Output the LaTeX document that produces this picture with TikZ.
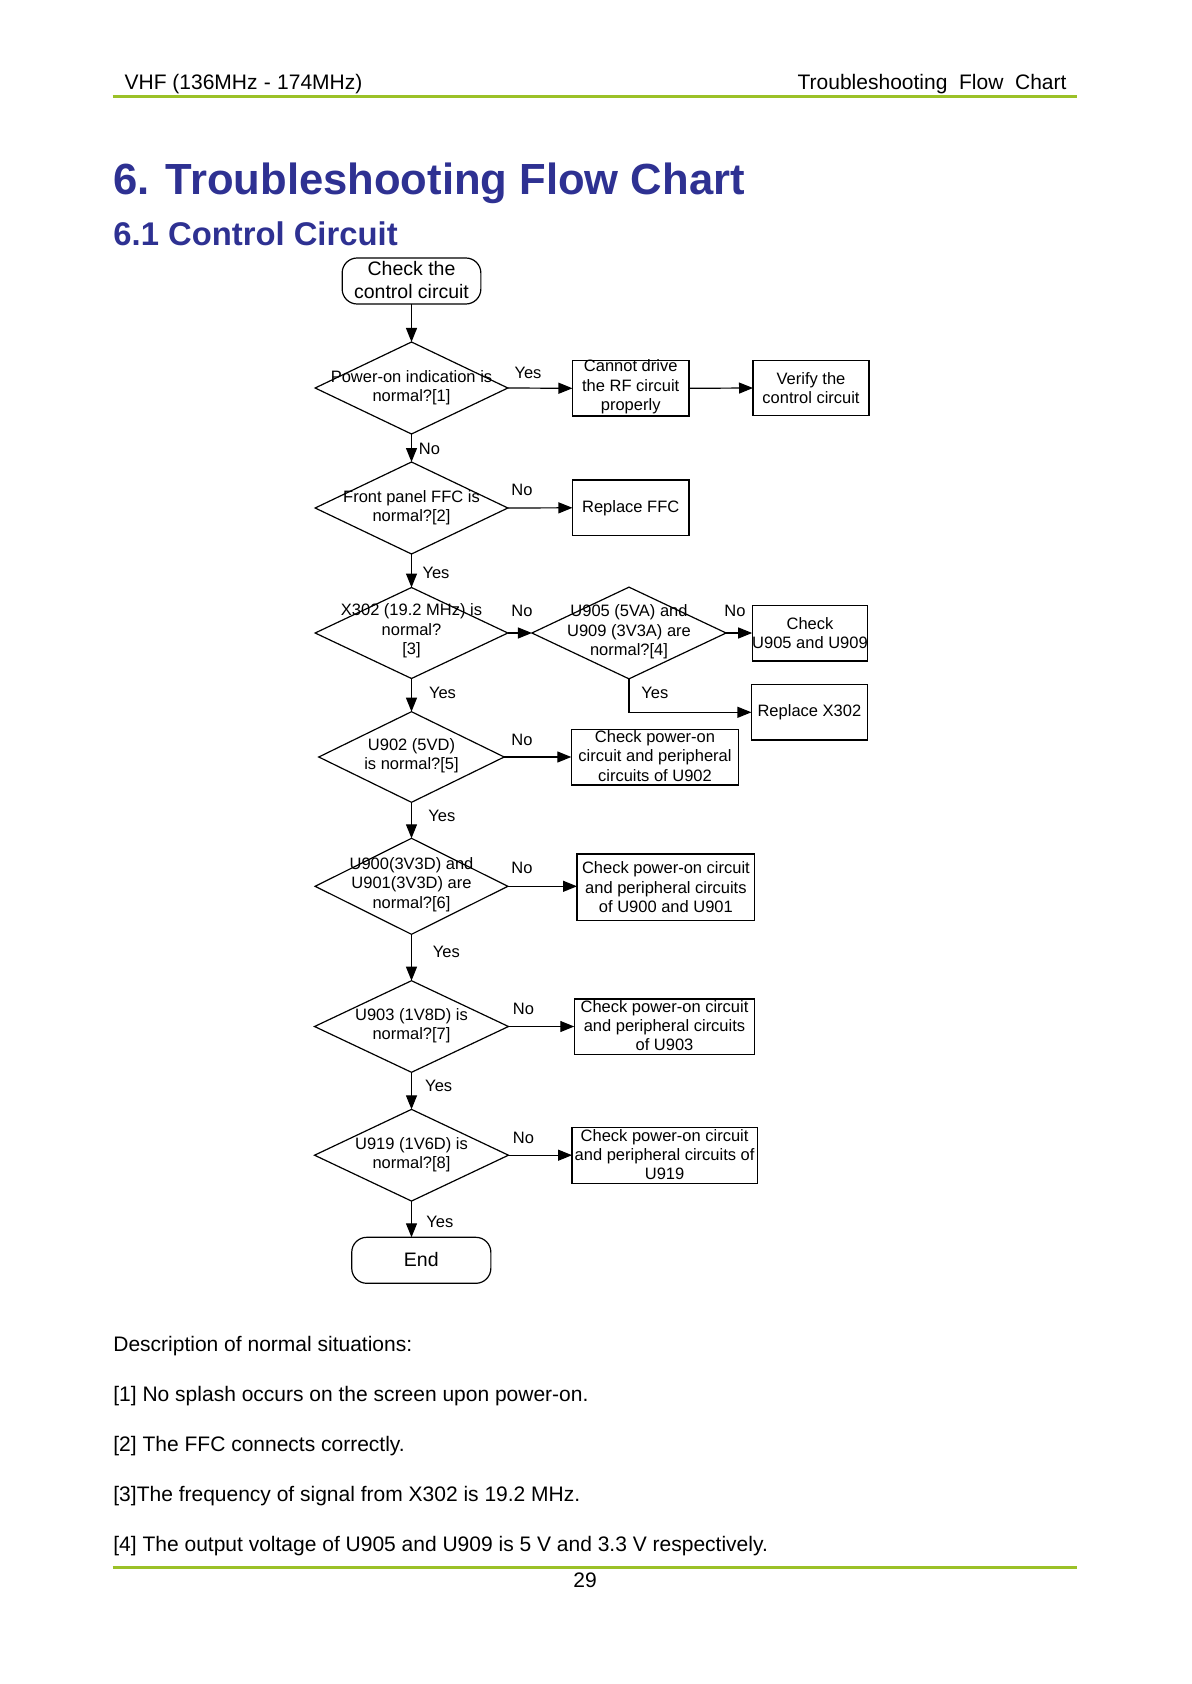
\documentclass[tikz,border=0pt]{standalone}
\usepackage{fontspec}
\setmainfont{Liberation Sans}
\usetikzlibrary{shapes.geometric,arrows.meta}
\definecolor{titleblue}{RGB}{46,49,146}
\definecolor{rulegreen}{RGB}{155,193,40}
\begin{document}
\begin{tikzpicture}[x=0.5pt,y=-0.5pt,
  every node/.style={inner sep=0pt, outer sep=0pt},
  flow/.style={draw, line width=0.6pt, fill=white},
  dec/.style={flow, diamond},
  proc/.style={flow, rectangle},
  term/.style={flow, rectangle, rounded corners=7.5pt},
  ftxt/.style={align=center, font=\fontsize{8.25}{9.65}\selectfont},
  ttxt/.style={align=center, font=\fontsize{9.75}{11.65}\selectfont},
  lab/.style={font=\fontsize{8.25}{9.65}\selectfont},
  conn/.style={line width=0.6pt, -{Triangle[length=7pt,width=5.5pt]}},
  hdr/.style={font=\fontsize{10.5}{12.6}\selectfont},
  body/.style={anchor=base west, font=\fontsize{10.5}{12.6}\selectfont},
  rulestyle/.style={draw=rulegreen, line width=1.25pt},
]
\useasboundingbox (0,0) rectangle (1191,1684);

% header
\node[hdr, anchor=base west] (hl) at (124.6,89.3) {VHF (136MHz\hspace{0.3em}-\hspace{0.3em}174MHz)};
\node[hdr, anchor=base east] (hr) at (1066.5,89.3) {Troubleshooting\ \ Flow\ \ Chart};
\coordinate (r1a) at (112.7,96.7);
\coordinate (r1b) at (1077,96.7);
\draw[rulestyle] (r1a) -- (r1b);

% titles
\node[anchor=base west, text=titleblue, font=\fontsize{21.8}{26}\selectfont\bfseries] (title) at (113.4,195) {6. Troubleshooting Flow Chart};
\node[anchor=base west, text=titleblue, font=\fontsize{16.4}{19}\selectfont\bfseries] (subtitle) at (113.4,246) {6.1 Control Circuit};

% flow chart shapes
\node[term, minimum width=69.35pt, minimum height=23pt] (start) at (411.5,281) {};
\node[ttxt] (startt) at (411.5,280) {Check the\\control circuit};

\node[dec, minimum width=96.35pt, minimum height=46pt] (d1) at (411.5,388) {};
\node[ftxt] (d1t) at (411.5,388) {Power-on indication is\\normal?[1]};
\node[proc, minimum width=58.25pt, minimum height=27.65pt] (cannot) at (630.7,388.3) {};
\node[ftxt] (cannott) at (630.7,387) {Cannot drive\\the RF circuit\\properly};
\node[proc, minimum width=58pt, minimum height=27.7pt] (verify) at (811,388) {};
\node[ftxt] (verifyt) at (811,388) {Verify the\\control circuit};

\node[dec, minimum width=96.35pt, minimum height=46pt] (d2) at (411.5,508) {};
\node[ftxt] (d2t) at (411.5,508) {Front panel FFC is\\normal?[2]};
\node[proc, minimum width=58.25pt, minimum height=27.85pt] (ffc) at (630.7,507.8) {};
\node[ftxt] (ffct) at (630.7,507.8) {Replace FFC};

\node[dec, minimum width=96.35pt, minimum height=45.5pt] (d3) at (411.5,633) {};
\node[ftxt] (d3t) at (411.5,631) {X302 (19.2 MHz) is\\normal?\\{[3]}};
\node[dec, minimum width=97.1pt, minimum height=45.85pt] (d4) at (629,633) {};
\node[ftxt] (d4t) at (629,632) {U905 (5VA) and\\U909 (3V3A) are\\normal?[4]};
\node[proc, minimum width=57.85pt, minimum height=27.65pt] (c905) at (810,633.3) {};
\node[ftxt] (c905t) at (810,633.3) {Check\\U905 and U909};
\node[proc, minimum width=58pt, minimum height=27.65pt] (x302) at (809.4,712.3) {};
\node[ftxt] (x302t) at (809.4,712.3) {Replace X302};

\node[dec, minimum width=92.7pt, minimum height=45.3pt] (d5) at (411.5,757) {};
\node[ftxt] (d5t) at (411.5,755.5) {U902 (5VD)\\is normal?[5]};
\node[proc, minimum width=83.7pt, minimum height=27.85pt] (u902) at (655,757.2) {};
\node[ftxt] (u902t) at (655,756) {Check power-on\\circuit and peripheral\\circuits of U902};

\node[dec, minimum width=96.35pt, minimum height=48pt] (d6) at (411.5,886.3) {};
\node[ftxt] (d6t) at (411.5,884.5) {U900(3V3D) and\\U901(3V3D) are\\normal?[6]};
\node[proc, minimum width=88.9pt, minimum height=33.35pt] (b6) at (665.9,887.3) {};
\node[ftxt] (b6t) at (665.9,887.3) {Check power-on circuit\\and peripheral circuits\\of U900 and U901};

\node[dec, minimum width=96.95pt, minimum height=45.8pt] (d7) at (411.5,1026.5) {};
\node[ftxt] (d7t) at (411.5,1025.5) {U903 (1V8D) is\\normal?[7]};
\node[proc, minimum width=90.25pt, minimum height=27.65pt] (b7) at (664.5,1026.7) {};
\node[ftxt] (b7t) at (664.5,1025.5) {Check power-on circuit\\and peripheral circuits\\of U903};

\node[dec, minimum width=96.95pt, minimum height=45.85pt] (d8) at (411.5,1155.2) {};
\node[ftxt] (d8t) at (411.5,1154.5) {U919 (1V6D) is\\normal?[8]};
\node[proc, minimum width=92.55pt, minimum height=27.8pt] (b8) at (664.6,1155.5) {};
\node[ftxt] (b8t) at (664.6,1154.5) {Check power-on circuit\\and peripheral circuits of\\U919};

\node[term, minimum width=69.55pt, minimum height=23pt] (end) at (421.3,1260.3) {};
\node[ttxt] (endt) at (421.3,1259.5) {End};

% connectors
\draw[conn] (start) -- (d1);
\draw[conn] (d1.east) -- (cannot.west);
\draw[conn] (cannot.east) -- (verify.west);
\draw[conn] (d1.south) -- (d2.north);
\draw[conn] (d2.east) -- (ffc.west);
\draw[conn] (d2.south) -- (d3.north);
\draw[conn] (d3.east) -- (d4.west);
\draw[conn] (d4.east) -- (d4.east -| c905.west);
\draw[conn] (d4.south) |- (x302.west);
\draw[conn] (d3.south) -- (d5.north);
\draw[conn] (d5.east) -- (d5.east -| u902.west);
\draw[conn] (d5.south) -- (d6.north);
\draw[conn] (d6.east) -- (d6.east -| b6.west);
\draw[conn] (d6.south) -- (d7.north);
\draw[conn] (d7.east) -- (d7.east -| b7.west);
\draw[conn] (d7.south) -- (d8.north);
\draw[conn] (d8.east) -- (d8.east -| b8.west);
\draw[conn] (d8.south) -- (d8.south |- end.north);

% connector labels
\node[lab] (l1) at (528,373) {Yes};
\node[lab] (l2) at (429.5,449) {No};
\node[lab] (l3) at (522,490) {No};
\node[lab] (l4) at (436,573) {Yes};
\node[lab] (l5) at (522,610.7) {No};
\node[lab] (l6) at (734.9,610.7) {No};
\node[lab] (l7) at (654.8,692.7) {Yes};
\node[lab] (l8) at (442.5,693.3) {Yes};
\node[lab] (l9) at (522,740) {No};
\node[lab] (l10) at (441.8,815.7) {Yes};
\node[lab] (l11) at (522,868.3) {No};
\node[lab] (l12) at (446.4,951.7) {Yes};
\node[lab] (l13) at (523.4,1009.3) {No};
\node[lab] (l14) at (438.7,1085.7) {Yes};
\node[lab] (l15) at (523.4,1138.3) {No};
\node[lab] (l16) at (439.8,1221.7) {Yes};

% description
\node[body] (desc0) at (113.4,1351.7) {Description of normal situations:};
\node[body] (desc1) at (113.4,1401.7) {[1] No splash occurs on the screen upon power-on.};
\node[body] (desc2) at (113.4,1451.7) {[2] The FFC connects correctly.};
\node[body] (desc3) at (113.4,1501.7) {[3]The frequency of signal from X302 is 19.2 MHz.};
\node[body] (desc4) at (113.4,1551.7) {[4] The output voltage of U905 and U909 is 5 V and 3.3 V respectively.};

% footer
\coordinate (r2a) at (112.7,1567.7);
\coordinate (r2b) at (1077,1567.7);
\draw[rulestyle] (r2a) -- (r2b);
\node[hdr, anchor=base] (pageno) at (585,1587) {29};
\end{tikzpicture}
\end{document}
